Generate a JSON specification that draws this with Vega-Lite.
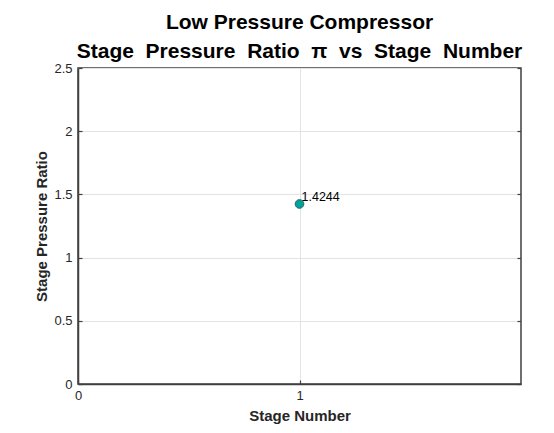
{
  "$schema": "https://vega.github.io/schema/vega-lite/v6.json",
  "autosize": "none",
  "width": 443,
  "height": 316,
  "padding": {"left": 78, "top": 68, "right": 33, "bottom": 49},
  "background": "white",
  "data": {"values": [{"stage": 1, "ratio": 1.4244, "label": "1.4244"}]},
  "title": {
    "text": ["Low Pressure Compressor", "Stage\u00a0\u00a0Pressure\u00a0\u00a0Ratio\u00a0\u00a0π\u00a0\u00a0vs\u00a0\u00a0Stage\u00a0\u00a0Number"],
    "font": "Liberation Sans",
    "fontSize": 21,
    "fontWeight": "bold",
    "color": "black",
    "lineHeight": 29,
    "anchor": "middle",
    "offset": 0
  },
  "config": {
    "view": {"stroke": "#404040", "strokeWidth": 1.5},
    "axis": {
      "labelFont": "Liberation Sans",
      "labelFontSize": 13,
      "labelColor": "#262626",
      "titleFont": "Liberation Sans",
      "titleFontSize": 15,
      "titleFontWeight": "bold",
      "titleColor": "#262626",
      "domainColor": "#404040",
      "domainWidth": 1.5,
      "tickColor": "#404040",
      "tickSize": -4,
      "tickWidth": 1.2,
      "gridColor": "#e3e3e3",
      "gridWidth": 1
    }
  },
  "layer": [
    {
      "mark": {"type": "point", "filled": true, "fill": "#00a19b", "stroke": "#1a6b66", "strokeWidth": 1, "size": 75, "opacity": 1},
      "encoding": {
        "x": {"field": "stage", "type": "quantitative", "scale": {"domain": [0, 2], "nice": false, "zero": false},
          "axis": {"values": [0, 1], "title": "Stage Number", "labelPadding": 9, "titlePadding": 6, "format": "d", "labelFlush": false}},
        "y": {"field": "ratio", "type": "quantitative", "scale": {"domain": [0, 2.5], "nice": false},
          "axis": {"values": [0, 0.5, 1, 1.5, 2, 2.5], "format": "~g", "title": "Stage Pressure Ratio", "labelPadding": 10, "titlePadding": 4, "labelFlush": false}}
      }
    },
    {
      "mark": {"type": "text", "align": "left", "baseline": "alphabetic", "dx": 2, "dy": -3, "font": "Liberation Sans", "fontSize": 12.5, "color": "black"},
      "encoding": {
        "x": {"field": "stage", "type": "quantitative"},
        "y": {"field": "ratio", "type": "quantitative", "axis": {"orient": "right", "values": [0, 0.5, 1, 1.5, 2, 2.5], "labels": false, "title": null, "grid": false, "domain": false}},
        "text": {"field": "label"}
      }
    }
  ],
  "resolve": {"axis": {"y": "independent"}}
}
